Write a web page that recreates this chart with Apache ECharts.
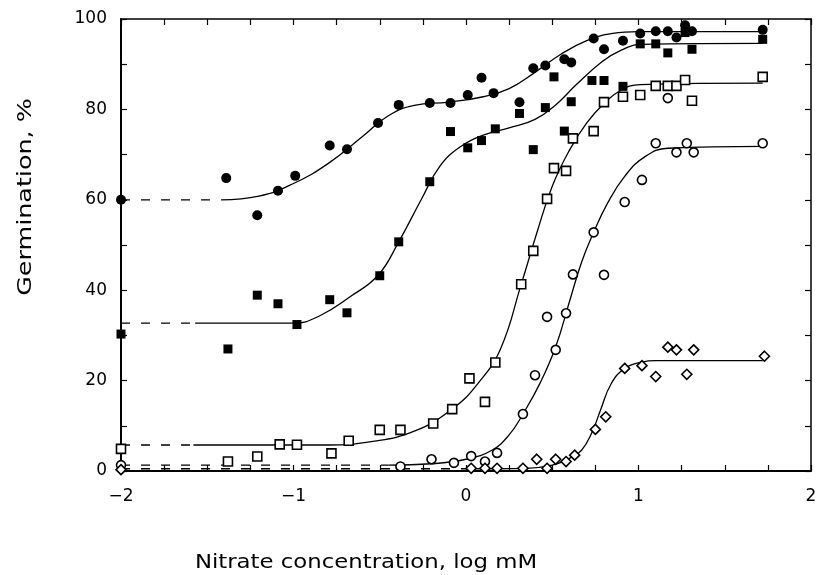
<!DOCTYPE html>
<html>
<head>
<meta charset="utf-8">
<script src="https://cdn.jsdelivr.net/npm/echarts@6/dist/echarts.min.js"></script>
<style>
html,body{margin:0;padding:0;background:#fff;}
#chart{width:823px;height:575px;}
</style>
</head>
<body>
<div id="chart"></div>
<script>
// ---- data (x = log mM, y = % germination) ----
const filledCircles = [
  [-2,60],[-1.39,64.8],[-1.21,56.6],[-1.09,62.0],[-0.99,65.3],[-0.79,72.0],[-0.69,71.2],
  [-0.51,77.0],[-0.39,81.0],[-0.21,81.4],[-0.09,81.4],[0.01,83.2],[0.09,87.0],[0.16,83.6],
  [0.31,81.6],[0.39,89.1],[0.46,89.7],[0.57,91.1],[0.61,90.4],[0.74,95.7],[0.80,93.3],
  [0.91,95.2],[1.01,96.8],[1.10,97.3],[1.17,97.3],[1.22,95.9],[1.27,98.6],[1.31,97.3],[1.72,97.6]
];
const filledSquares = [
  [-2,30.3],[-1.38,27.0],[-1.21,38.9],[-1.09,37.0],[-0.98,32.4],[-0.79,37.9],[-0.69,35.0],
  [-0.50,43.2],[-0.39,50.7],[-0.21,64.0],[-0.09,75.1],[0.01,71.5],[0.09,73.1],[0.17,75.7],
  [0.31,79.1],[0.39,71.1],[0.46,80.4],[0.51,87.2],[0.57,75.2],[0.61,81.7],[0.73,86.4],
  [0.80,86.4],[0.91,85.1],[1.01,94.5],[1.10,94.5],[1.17,92.5],[1.27,97.0],[1.31,93.3],[1.72,95.5]
];
const openSquares = [
  [-2,4.9],[-1.38,2.1],[-1.21,3.2],[-1.08,5.9],[-0.98,5.8],[-0.78,3.9],[-0.68,6.7],
  [-0.50,9.1],[-0.38,9.1],[-0.19,10.5],[-0.08,13.7],[0.02,20.5],[0.11,15.3],[0.17,24.0],
  [0.32,41.3],[0.39,48.7],[0.47,60.2],[0.51,67.0],[0.58,66.4],[0.62,73.6],[0.74,75.2],
  [0.80,81.6],[0.91,82.8],[1.01,83.2],[1.10,85.2],[1.17,85.2],[1.22,85.2],[1.27,86.5],
  [1.31,81.9],[1.72,87.2]
];
const openCircles = [
  [-2,1.3],[-0.38,1.0],[-0.20,2.6],[-0.07,1.8],[0.03,3.3],[0.11,2.1],[0.18,4.0],[0.33,12.6],
  [0.40,21.2],[0.47,34.1],[0.52,26.8],[0.58,34.9],[0.62,43.5],[0.74,52.8],[0.80,43.4],
  [0.92,59.5],[1.02,64.4],[1.10,72.5],[1.17,82.5],[1.22,70.5],[1.28,72.5],[1.32,70.5],[1.72,72.5]
];
const openDiamonds = [
  [-2,0.3],[0.03,0.6],[0.11,0.6],[0.18,0.6],[0.33,0.6],[0.41,2.6],[0.47,0.6],[0.52,2.6],
  [0.58,2.1],[0.63,3.5],[0.75,9.2],[0.81,12.0],[0.92,22.7],[1.02,23.3],[1.10,20.9],
  [1.17,27.4],[1.22,26.8],[1.28,21.4],[1.32,26.8],[1.73,25.4]
];

// fitted curves (solid) and their dashed extensions
const fitFilledCircles = [
  [-1.42,60],[-1.2,60.8],[-1.0,63.6],[-0.8,68],[-0.6,74],[-0.45,78.6],[-0.3,80.9],[-0.1,81.6],
  [0.1,82.8],[0.25,84.6],[0.4,88.2],[0.55,92.2],[0.7,95.2],[0.85,96.8],[1.0,97.2],[1.72,97.2]
];
const dashFilledCircles = [[-2,60],[-1.42,60]];
const fitFilledSquares = [
  [-1.57,32.7],[-1.0,32.7],[-0.85,34.3],[-0.67,38.6],[-0.51,43.3],[-0.39,50.7],[-0.26,60],
  [-0.15,67.5],[-0.03,71.8],[0.1,74.3],[0.25,75.9],[0.4,77.8],[0.52,81],[0.64,85.5],
  [0.79,90.6],[0.9,93.1],[1.01,94.4],[1.72,94.6]
];
const dashFilledSquares = [[-2,32.7],[-1.57,32.7]];
const fitOpenSquares = [
  [-1.58,5.75],[-0.8,5.75],[-0.55,6.5],[-0.3,8.8],[-0.08,13.7],[0.07,19.4],[0.2,27],
  [0.32,41.3],[0.41,52.6],[0.5,63],[0.6,71],[0.7,77],[0.8,81.3],[0.9,84.3],[1.01,85.5],[1.72,85.8]
];
const dashOpenSquares = [[-2,5.75],[-1.58,5.75]];
const fitOpenCircles = [
  [-0.45,1.3],[-0.2,1.6],[0.0,2.6],[0.15,4.6],[0.25,8],[0.33,12.6],[0.43,19.5],[0.52,27.5],
  [0.6,37.5],[0.67,46.2],[0.74,52.8],[0.82,59.2],[0.92,65.2],[1.04,69.6],[1.17,71.4],[1.72,71.8]
];
const dashOpenCircles = [[-2,1.3],[-0.45,1.3]];
const fitOpenDiamonds = [
  [0.0,0.5],[0.35,0.6],[0.5,1.3],[0.6,2.8],[0.67,4.6],[0.73,8.5],[0.78,13.5],[0.84,19.2],
  [0.92,22.7],[1.02,24.1],[1.1,24.4],[1.72,24.4]
];
const dashOpenDiamonds = [[-2,0.5],[0.0,0.5]];

const xTitle = 'Nitrate concentration, log mM';
const yTitle = 'Germination, %';

// ---- chart ----
const FONT = '"DejaVu Sans", sans-serif';
const chart = echarts.init(document.getElementById('chart'), null, {renderer:'canvas'});

function curve(data, dashed){
  return {type:'line', data, smooth: dashed ? false : 0.45, showSymbol:false, symbol:'none',
    silent:true, z:1,
    lineStyle:{color:'#000', width:1.3, type: dashed ? [9,11] : 'solid'}};
}
function points(data, symbol, filled, size){
  return {type:'scatter', data, symbol, symbolSize:size, z:3,
    itemStyle:{color: filled ? '#000' : '#fff', borderColor:'#000', borderWidth: filled ? 0 : 1.6, opacity:1}};
}

const axisCommonX = {type:'value', min:-2, max:2, interval:1,
  splitLine:{show:false},
  axisLine:{show:true, onZero:false, lineStyle:{color:'#000', width:2}},
  axisTick:{show:true, inside:true, length:6, lineStyle:{color:'#000', width:1.2}},
  minorTick:{show:true, splitNumber:4, length:6, lineStyle:{color:'#000', width:1.2}}};
const axisCommonY = {type:'value', min:0, max:100, interval:20,
  splitLine:{show:false},
  axisLine:{show:true, onZero:false, lineStyle:{color:'#000', width:2}},
  axisTick:{show:true, inside:true, length:6, lineStyle:{color:'#000', width:1.2}},
  minorTick:{show:true, splitNumber:2, length:6, lineStyle:{color:'#000', width:1.2}}};

chart.setOption({
  backgroundColor:'#fff',
  animation:false,
  grid:{left:121, right:12, top:19, bottom:104, containLabel:false},
  xAxis:[
    Object.assign({}, axisCommonX, {position:'bottom',
      axisLabel:{show:true, margin:17, color:'#000', fontSize:17, fontFamily:FONT,
        formatter: v => String(v).replace('-', '\u2212')}}),
    Object.assign({}, axisCommonX, {position:'top', axisLabel:{show:false},
      axisLine:{show:true, onZero:false, lineStyle:{color:'#000', width:1.5}}})
  ],
  yAxis:[
    Object.assign({}, axisCommonY, {position:'left',
      axisLabel:{show:true, margin:14, color:'#000', fontSize:17, fontFamily:FONT}}),
    Object.assign({}, axisCommonY, {position:'right', axisLabel:{show:false},
      axisLine:{show:true, onZero:false, lineStyle:{color:'#000', width:1.5}}})
  ],
  graphic:[
    {type:'text', x:366, y:563, scaleX:1.2,
      style:{text:xTitle, font:'19px ' + FONT, fill:'#000', align:'center', verticalAlign:'middle'}},
    {type:'text', x:26, y:197, rotation:Math.PI/2, scaleX:1.27,
      style:{text:yTitle, font:'20px ' + FONT, fill:'#000', align:'center', verticalAlign:'middle'}}
  ],
  series:[
    curve(dashFilledCircles, true), curve(fitFilledCircles, false),
    curve(dashFilledSquares, true), curve(fitFilledSquares, false),
    curve(dashOpenSquares, true), curve(fitOpenSquares, false),
    curve(dashOpenCircles, true), curve(fitOpenCircles, false),
    curve(dashOpenDiamonds, true), curve(fitOpenDiamonds, false),
    points(filledCircles, 'circle', true, 10),
    points(filledSquares, 'rect', true, 9),
    points(openSquares, 'rect', false, 9),
    points(openCircles, 'circle', false, 9),
    points(openDiamonds, 'diamond', false, 10)
  ]
});
</script>
</body>
</html>
